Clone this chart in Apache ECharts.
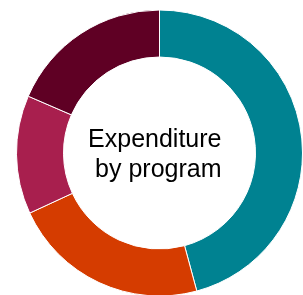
<!DOCTYPE html>
<html>
<head>
<meta charset="utf-8">
<script src="https://cdn.jsdelivr.net/npm/echarts@6/dist/echarts.min.js"></script>
<style>
    html, body { margin: 0; padding: 0; background: #fff; }
    #main { width: 303px; height: 295px; }
</style>
</head>
<body>
<div id="main"></div>
<script>
//项目分类及支出占比
var programs = ['Program A', 'Program B', 'Program C', 'Program D'];
var shares = [45.8, 22.3, 13.4, 18.5];
var colors = ['#008291', '#D53C00', '#A81F4E', '#5F0024'];
var centerText = 'Expenditure\nby program';

var chart = echarts.init(document.getElementById('main'));

var data = programs.map(function(name, i) {
    return { name: name, value: shares[i], itemStyle: { color: colors[i] } };
});

chart.setOption({
    animation: false,
    graphic: [{
        type: 'text',
        style: {
            x: 221.5,
            y: 125,
            text: centerText,
            fill: '#000',
            font: '25px "Liberation Sans", Arial, sans-serif',
            textAlign: 'right',
            textVerticalAlign: 'top',
            lineHeight: 30
        }
    }],
    series: [{
        type: 'pie',
        center: [159.5, 153],
        radius: [96, 143],
        startAngle: 90,
        clockwise: true,
        label: { show: false },
        labelLine: { show: false },
        itemStyle: { borderColor: '#fff', borderWidth: 1 },
        emphasis: { disabled: true },
        data: data
    }]
});
</script>
</body>
</html>
